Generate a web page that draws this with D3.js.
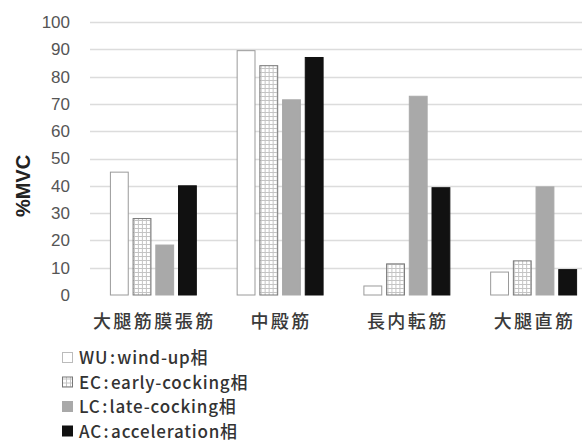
<!DOCTYPE html>
<html>
<head>
<meta charset="utf-8">
<script src="https://cdn.jsdelivr.net/npm/d3@7"></script>
<style>
  body { margin: 0; background: #fff; }
  text { font-family: "Noto Sans CJK JP", "Noto Sans", sans-serif; }
</style>
</head>
<body>
<div class="chart"></div>
<script>
//muscles on the x axis
var muscles = ["大腿筋膜張筋", "中殿筋", "長内転筋", "大腿直筋"];
//phases (series)
var phases = ["WU", "EC", "LC", "AC"];
var phase_labels = ["WU : wind-up相", "EC : early-cocking相", "LC : late-cocking相", "AC : acceleration相"];
//%MVC values, one list per phase
var wu_values = [45, 89.5, 3.3, 8.4];
var ec_values = [28, 84, 11.4, 12.5];
var lc_values = [18.3, 71.5, 72.8, 39.6];
var ac_values = [40, 87, 39.3, 9.3];
var y_ticks = [0, 10, 20, 30, 40, 50, 60, 70, 80, 90, 100];

var series = [wu_values, ec_values, lc_values, ac_values];

//size variables
var width = 582, height = 444;
var margin = {top: 22, left: 90, right: -15, bottom: 149};

var svg = d3.select(".chart")
    .append("svg")
    .attr("width", width)
    .attr("height", height);

//pattern for the early-cocking bars
var defs = svg.append("defs");
var pat = defs.append("pattern")
    .attr("id", "grid")
    .attr("width", 4)
    .attr("height", 4)
    .attr("patternUnits", "userSpaceOnUse");
pat.append("rect").attr("width", 4).attr("height", 4).attr("fill", "#fff");
pat.append("path")
    .attr("d", "M0,0.5H4M0.5,0V4")
    .attr("stroke", "#c4c4c4")
    .attr("stroke-width", 1);

//scales
var x0 = d3.scaleBand()
    .domain(muscles)
    .range([margin.left, width - margin.right])
    .paddingInner(0.314)
    .paddingOuter(0.157);
var x1 = d3.scaleBand()
    .domain(phases)
    .range([0, x0.bandwidth()])
    .paddingInner(0.17);
var y = d3.scaleLinear()
    .domain([0, 100])
    .range([height - margin.bottom, margin.top]);

//gridlines
svg.append("g")
    .selectAll("line")
    .data(y_ticks.filter(function(d) { return d > 0; }))
    .enter().append("line")
    .attr("x1", margin.left)
    .attr("x2", width)
    .attr("y1", function(d) { return Math.round(y(d)) + 0.5; })
    .attr("y2", function(d) { return Math.round(y(d)) + 0.5; })
    .attr("stroke", "#dcdcdc")
    .attr("stroke-width", 1.5);

//y axis labels
var yAxis = svg.append("g")
    .attr("transform", "translate(70,0)")
    .call(d3.axisLeft(y).tickValues(y_ticks).tickSize(0).tickPadding(0));
yAxis.select(".domain").remove();
yAxis.selectAll("text")
    .attr("fill", "#555")
    .style("font-size", "17px")
    .style("font-family", "'Liberation Sans', Arial, sans-serif");

//y axis title
svg.append("text")
    .attr("transform", "translate(30,186) rotate(-90)")
    .attr("text-anchor", "middle")
    .attr("fill", "#222")
    .style("font-size", "20px")
    .style("font-weight", "bold")
    .style("font-family", "'Liberation Sans', Arial, sans-serif")
    .text("%MVC");

//bar styles per phase
var fills = {WU: "#fff", EC: "url(#grid)", LC: "#a9a9a9", AC: "#111"};
var strokes = {WU: "#9a9a9a", EC: "#777", LC: "#a9a9a9", AC: "#111"};

//bars
var groups = svg.append("g")
    .selectAll("g")
    .data(muscles)
    .enter().append("g")
    .attr("transform", function(d) { return "translate(" + x0(d) + ",0)"; });

groups.selectAll("rect")
    .data(function(m, i) {
        return phases.map(function(p, j) { return {phase: p, value: series[j][i]}; });
    })
    .enter().append("rect")
    .attr("x", function(d) { return x1(d.phase) + 0.5; })
    .attr("y", function(d) { return y(d.value); })
    .attr("width", function(d) { return x1.bandwidth() - 1; })
    .attr("height", function(d) { return y(0) - y(d.value); })
    .attr("fill", function(d) { return fills[d.phase]; })
    .attr("stroke", function(d) { return strokes[d.phase]; })
    .attr("stroke-width", 1);

//category labels
svg.append("g")
    .selectAll("text")
    .data(muscles)
    .enter().append("text")
    .attr("x", function(d) { return x0(d) + x0.bandwidth() / 2 + 1; })
    .attr("y", 328)
    .attr("text-anchor", "middle")
    .attr("fill", "#3a3a3a")
    .style("font-size", "18px")
    .style("font-weight", "500")
    .style("letter-spacing", "2.5px")
    .text(function(d) { return d; });

//legend
var legend = svg.append("g")
    .selectAll("g")
    .data(phases)
    .enter().append("g")
    .attr("transform", function(d, i) { return "translate(62," + (358 + i * 24.5) + ")"; });
legend.append("rect")
    .attr("x", 0.5)
    .attr("y", -5.5)
    .attr("width", 10)
    .attr("height", 10)
    .attr("fill", function(d) { return fills[d]; })
    .attr("stroke", function(d) { return d == "WU" ? "#bbb" : strokes[d]; });
legend.append("text")
    .attr("x", 17)
    .attr("y", 6)
    .attr("fill", "#333")
    .style("font-size", "17px")
    .style("font-weight", "500")
    .style("letter-spacing", "0.8px")
    .style("word-spacing", "-3px")
    .text(function(d, i) { return phase_labels[i]; });
</script>
</body>
</html>
